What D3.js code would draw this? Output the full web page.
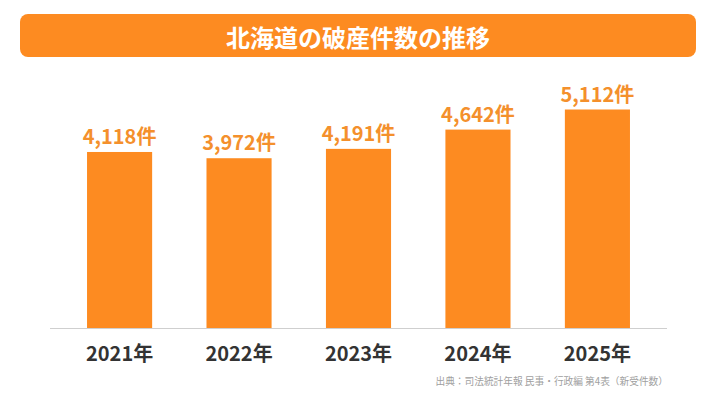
<!DOCTYPE html>
<html>
<head>
<meta charset="utf-8">
<script src="https://cdn.jsdelivr.net/npm/d3@7"></script>
<style>
  html, body { margin: 0; padding: 0; background: #fff; }
  svg { display: block; font-family: "Noto Sans CJK JP", "Noto Sans", sans-serif; }
</style>
</head>
<body>
<svg id="chart" width="716" height="403"></svg>
<script>
const title = "北海道の破産件数の推移";
const years = ["2021年", "2022年", "2023年", "2024年", "2025年"];
const counts = [4118, 3972, 4191, 4642, 5112];
const unit = "件";
const source = "出典：司法統計年報 民事・行政編 第4表（新受件数）";

const orange = "#fd8b21";
const labelOrange = "#f4902c";

const svg = d3.select("#chart");

// Title banner
svg.append("rect")
    .attr("x", 20)
    .attr("y", 14)
    .attr("width", 676)
    .attr("height", 43)
    .attr("rx", 8)
    .attr("fill", orange);

svg.append("text")
    .text(title)
    .attr("x", 358)
    .attr("y", 36)
    .attr("dominant-baseline", "central")
    .attr("text-anchor", "middle")
    .attr("fill", "#fff")
    .attr("font-size", 24)
    .attr("font-weight", 700);

// Scales
const x = d3.scaleBand()
    .domain(years)
    .range([50, 667])
    .paddingInner(0.455)
    .paddingOuter(0.31);

const y = d3.scaleLinear()
    .domain([0, 5112])
    .range([328, 109.5]);

const data = years.map((yr, i) => ({ year: yr, value: counts[i] }));

// Bars
svg.selectAll(".bar")
    .data(data)
    .enter()
    .append("rect")
    .attr("class", "bar")
    .attr("x", d => x(d.year))
    .attr("y", d => y(d.value))
    .attr("width", x.bandwidth())
    .attr("height", d => y(0) - y(d.value))
    .attr("fill", orange);

// Value labels
svg.selectAll(".value")
    .data(data)
    .enter()
    .append("text")
    .attr("class", "value")
    .text(d => d3.format(",")(d.value) + unit)
    .attr("x", d => x(d.year) + x.bandwidth() / 2)
    .attr("y", d => y(d.value) - 8)
    .attr("text-anchor", "middle")
    .attr("fill", labelOrange)
    .attr("font-size", 20)
    .attr("font-weight", 700);

// Baseline + category axis
const axis = svg.append("g")
    .attr("transform", "translate(0,328)")
    .call(d3.axisBottom(x).tickSize(0).tickPadding(0));

axis.select(".domain")
    .attr("d", "M50,0.5H667")
    .attr("stroke", "#cfcfcf");

axis.selectAll(".tick text")
    .attr("y", 33)
    .attr("dy", null)
    .attr("fill", "#333")
    .attr("font-size", 20)
    .attr("font-weight", 700)
    .attr("font-family", "\"Noto Sans CJK JP\", sans-serif");

// Source note
svg.append("text")
    .text(source)
    .attr("x", 668)
    .attr("y", 385)
    .attr("text-anchor", "end")
    .attr("fill", "#a0a0a0")
    .attr("font-size", 9.7);
</script>
</body>
</html>
